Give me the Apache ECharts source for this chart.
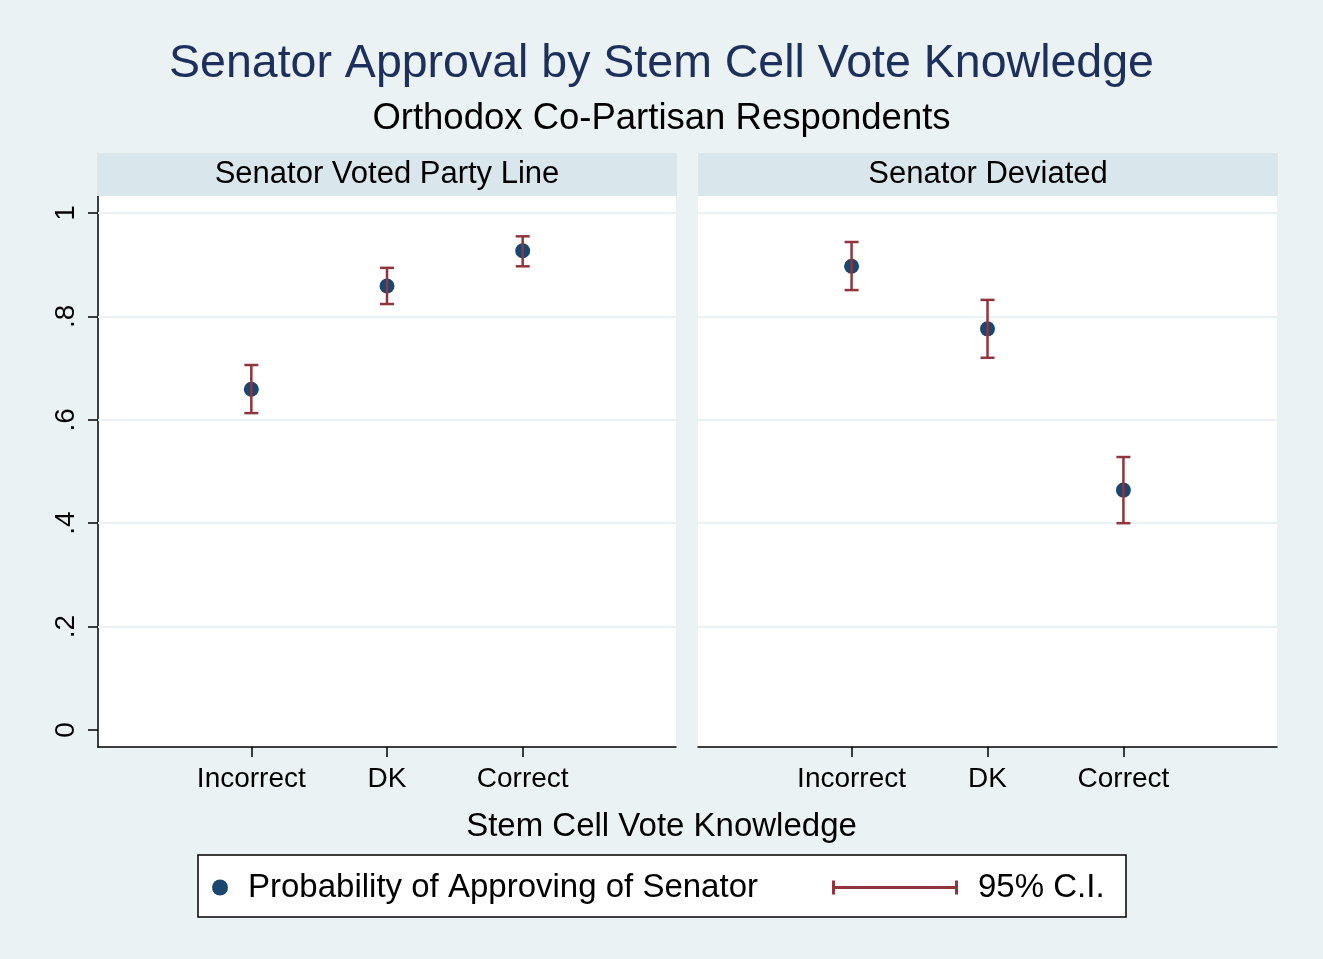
<!DOCTYPE html>
<html style="height: 100%">
    <head>
        <meta charset="utf-8">
    </head>
    <body style="height: 100%; margin: 0; background: #eaf2f3;">
        <div id="container" style="width: 1323px; height: 959px;"></div>
        <script src="https://cdn.jsdelivr.net/npm/echarts@6/dist/echarts.min.js"></script>
        <script>
        // categories on the x axis, one panel per senator vote
        var categories = ['Incorrect', 'DK', 'Correct'];
        var panels = ['Senator Voted Party Line', 'Senator Deviated'];

        // point estimates and 95% CI bounds
        var partyLineEst = [0.659, 0.859, 0.927];
        var partyLineLo = [0.613, 0.824, 0.897];
        var partyLineHi = [0.706, 0.894, 0.955];
        var deviatedEst = [0.897, 0.776, 0.464];
        var deviatedLo = [0.851, 0.720, 0.400];
        var deviatedHi = [0.944, 0.832, 0.528];

        var yTicks = [0, 0.2, 0.4, 0.6, 0.8, 1];
        var yTickLabels = ['0', '.2', '.4', '.6', '.8', '1'];
        var yGridLines = [0.2, 0.4, 0.6, 0.8, 1];

        var _font = 'Liberation Sans, Helvetica, Arial, sans-serif';
        var _titleColor = '#1d2f5c';
        var _navy = '#1a476f';
        var _maroon = '#90353b';
        var _bg = '#eaf2f3';
        var _strip = '#d9e6eb';

        var chart = echarts.init(document.getElementById('container'));

        function pointData(est) {
            return est.map(function (v, i) { return [i, v]; });
        }
        function ciData(lo, hi) {
            return lo.map(function (v, i) { return [i, v, hi[i]]; });
        }

        function renderCI(params, api) {
            var x = api.value(0);
            var lo = api.coord([x, api.value(1)]);
            var hi = api.coord([x, api.value(2)]);
            var cap = 7;
            var style = { stroke: _maroon, lineWidth: 2.5 };
            return {
                type: 'group',
                children: [
                    { type: 'line', shape: { x1: lo[0], y1: lo[1], x2: hi[0], y2: hi[1] }, style: style },
                    { type: 'line', shape: { x1: lo[0] - cap, y1: lo[1], x2: lo[0] + cap, y2: lo[1] }, style: style },
                    { type: 'line', shape: { x1: hi[0] - cap, y1: hi[1], x2: hi[0] + cap, y2: hi[1] }, style: style }
                ]
            };
        }

        // light horizontal grid lines (none at 0)
        var gridMarkLine = {
            silent: true,
            symbol: 'none',
            label: { show: false },
            lineStyle: { color: _bg, width: 2, type: 'solid' },
            z: 1,
            data: yGridLines.map(function (v) { return { yAxis: v }; })
        };

        function xAxisFor(idx) {
            return {
                gridIndex: idx,
                type: 'value',
                min: -1.13,
                max: 3.13,
                axisLine: { show: true, onZero: false, lineStyle: { color: '#000', width: 1.5 } },
                axisTick: { show: true, customValues: [0, 1, 2], length: 10, lineStyle: { color: '#000', width: 1.5 } },
                axisLabel: {
                    customValues: [0, 1, 2],
                    formatter: function (v) { return categories[Math.round(v)]; },
                    fontSize: 28, color: '#000', fontFamily: _font, margin: 18
                },
                splitLine: { show: false }
            };
        }

        function yAxisFor(idx, showAxis) {
            return {
                gridIndex: idx,
                type: 'value',
                min: -0.033,
                max: 1.033,
                axisLine: { show: showAxis, onZero: false, lineStyle: { color: '#000', width: 1.5 } },
                axisTick: { show: showAxis, customValues: yTicks, length: 10, lineStyle: { color: '#000', width: 1.5 } },
                axisLabel: {
                    show: showAxis,
                    customValues: yTicks,
                    rotate: 90,
                    formatter: function (v) {
                        var k = yTicks.indexOf(Math.round(v * 10) / 10);
                        return k >= 0 ? yTickLabels[k] : '';
                    },
                    fontSize: 28, color: '#000', fontFamily: _font, margin: 18
                },
                splitLine: { show: false }
            };
        }

        var option = {
            backgroundColor: _bg,
            animation: false,
            title: [{
                text: 'Senator Approval by Stem Cell Vote Knowledge',
                left: 'center', top: 36,
                textStyle: { color: _titleColor, fontSize: 46.5, fontWeight: 'normal', fontFamily: _font }
            }, {
                text: 'Orthodox Co-Partisan Respondents',
                left: 'center', top: 95,
                textStyle: { color: '#000', fontSize: 36.5, fontWeight: 'normal', fontFamily: _font }
            }, {
                text: 'Stem Cell Vote Knowledge',
                left: 'center', top: 805,
                textStyle: { color: '#000', fontSize: 33, fontWeight: 'normal', fontFamily: _font }
            }],
            grid: [
                { left: 98, top: 196, width: 578, height: 551, show: true, backgroundColor: '#fff', borderWidth: 0 },
                { left: 698, top: 196, width: 579, height: 551, show: true, backgroundColor: '#fff', borderWidth: 0 }
            ],
            xAxis: [xAxisFor(0), xAxisFor(1)],
            yAxis: [yAxisFor(0, true), yAxisFor(1, false)],
            legend: [{
                left: 212, top: 871, padding: 0,
                itemWidth: 40, itemHeight: 16,
                data: [{ name: 'Probability of Approving of Senator', icon: 'circle' }],
                textStyle: { fontSize: 33, color: '#000', fontFamily: _font, padding: [0, 0, 0, 3] }
            }, {
                left: 832, top: 871, padding: 0,
                itemWidth: 126, itemHeight: 14,
                data: [{ name: '95% C.I.', icon: 'path://M0,0h3v14h-3z M3,5.5h120v3h-120z M123,0h3v14h-3z' }],
                textStyle: { fontSize: 33, color: '#000', fontFamily: _font, padding: [0, 0, 0, 15] }
            }],
            graphic: [
                { type: 'rect', shape: { x: 97, y: 153, width: 580, height: 43 }, style: { fill: _strip }, z: 1 },
                { type: 'rect', shape: { x: 698, y: 153, width: 580, height: 43 }, style: { fill: _strip }, z: 1 },
                { type: 'text', x: 387, y: 174, z: 2,
                  style: { text: panels[0], fontSize: 31, fill: '#000', fontFamily: _font, align: 'center', verticalAlign: 'middle' } },
                { type: 'text', x: 988, y: 174, z: 2,
                  style: { text: panels[1], fontSize: 31, fill: '#000', fontFamily: _font, align: 'center', verticalAlign: 'middle' } },
                { type: 'rect', shape: { x: 198, y: 855, width: 928, height: 62 },
                  style: { fill: '#fff', stroke: '#000', lineWidth: 1.5 }, z: -1 }
            ],
            series: [{
                name: 'Probability of Approving of Senator',
                type: 'scatter', xAxisIndex: 0, yAxisIndex: 0,
                symbolSize: 15, itemStyle: { color: _navy, opacity: 1 }, z: 2,
                markLine: gridMarkLine,
                data: pointData(partyLineEst)
            }, {
                name: '95% C.I.',
                type: 'custom', xAxisIndex: 0, yAxisIndex: 0,
                renderItem: renderCI, itemStyle: { color: _maroon }, z: 3,
                encode: { x: 0, y: [1, 2] },
                data: ciData(partyLineLo, partyLineHi)
            }, {
                name: 'Probability of Approving of Senator',
                type: 'scatter', xAxisIndex: 1, yAxisIndex: 1,
                symbolSize: 15, itemStyle: { color: _navy, opacity: 1 }, z: 2,
                markLine: gridMarkLine,
                data: pointData(deviatedEst)
            }, {
                name: '95% C.I.',
                type: 'custom', xAxisIndex: 1, yAxisIndex: 1,
                renderItem: renderCI, itemStyle: { color: _maroon }, z: 3,
                encode: { x: 0, y: [1, 2] },
                data: ciData(deviatedLo, deviatedHi)
            }]
        };

        chart.setOption(option);
        </script>
    </body>
</html>
